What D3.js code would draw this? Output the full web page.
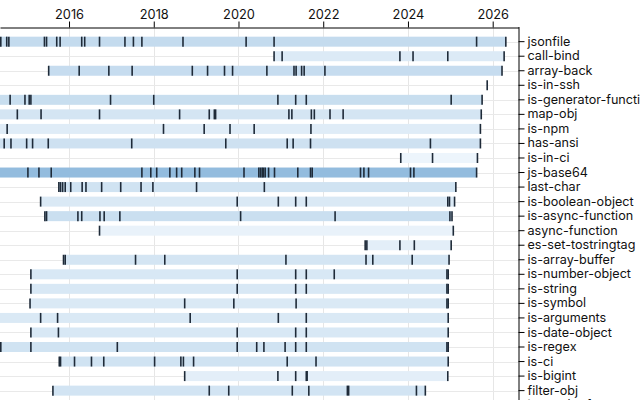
<!DOCTYPE html>
<html><head><meta charset="utf-8">
<script src="https://cdn.jsdelivr.net/npm/d3@7"></script>
<style>
body{margin:0;background:#fff;}
svg{display:block;font-family:Inter,"Helvetica Neue",Arial,sans-serif;}
</style>
</head><body>
<svg id="chart" width="640" height="400"></svg>
<script>
// Package names (top to bottom)
const packages = [
  "jsonfile","call-bind","array-back","is-in-ssh","is-generator-function","map-obj",
  "is-npm","has-ansi","is-in-ci","js-base64","last-char","is-boolean-object",
  "is-async-function","async-function","es-set-tostringtag","is-array-buffer",
  "is-number-object","is-string","is-symbol","is-arguments","is-date-object",
  "is-regex","is-ci","is-bigint","filter-obj","is-weakref"
];
// Relative popularity (drives bar shade)
const popularity = [
  0.25,0.13,0.24,0.05,0.23,0.17,
  0.12,0.20,0.05,0.49,0.19,0.14,
  0.22,0.07,0.10,0.17,
  0.15,0.15,0.14,0.14,0.15,
  0.19,0.19,0.10,0.18,0.15
];
// Release dates as decimal years, one list per package
const releases = [
  [2013.6,2014.39,2014.53,2014.58,2015.42,2015.47,2015.71,2015.79,2016.30,2016.37,2016.72,2017.32,2017.52,2017.72,2018.69,2020.18,2020.84,2025.62,2026.31],
  [2020.84,2021.03,2023.81,2024.12,2024.94,2026.27],
  [2015.52,2016.24,2016.94,2017.49,2018.91,2019.27,2019.67,2019.86,2020.67,2021.31,2021.36,2021.49,2021.55,2022.04,2026.22],
  [2025.87],
  [2014.0,2014.61,2014.96,2015.06,2015.10,2016.98,2018.00,2020.93,2021.35,2021.60,2025.02,2025.75],
  [2014.2,2014.78,2015.34,2016.72,2018.61,2019.31,2019.43,2019.46,2021.19,2021.26,2021.72,2021.79,2022.16,2022.47,2025.73],
  [2014.1,2014.54,2018.23,2019.19,2019.80,2020.37,2021.71,2025.71],
  [2014.3,2014.47,2014.63,2015.00,2015.14,2015.51,2017.48,2019.70,2021.15,2021.29,2021.70,2024.53,2025.71],
  [2023.83,2024.58,2025.64],
  [2013.9,2015.03,2015.29,2015.58,2017.72,2017.93,2018.07,2018.38,2018.54,2018.66,2018.97,2019.08,2020.13,2020.48,2020.52,2020.56,2020.59,2020.63,2020.71,2020.85,2021.40,2021.70,2021.74,2022.88,2022.96,2023.07,2024.06,2024.14,2025.62],
  [2015.76,2015.80,2015.85,2015.91,2016.04,2016.31,2016.40,2016.77,2017.22,2017.70,2017.98,2019.01,2020.61,2025.13],
  [2015.33,2019.97,2020.94,2021.35,2021.60,2024.94,2024.98,2025.10],
  [2015.43,2015.47,2016.21,2016.30,2016.73,2016.83,2017.20,2020.05,2022.28,2024.99,2025.04],
  [2016.72,2025.07],
  [2022.99,2023.03,2023.81,2024.15,2025.02],
  [2015.87,2015.91,2017.57,2018.26,2021.12,2023.01,2023.17,2024.10,2024.97],
  [2015.10,2019.97,2021.35,2021.60,2022.26,2024.92,2024.95],
  [2015.10,2019.97,2021.35,2021.60,2024.92,2024.95],
  [2015.08,2018.73,2019.89,2021.36,2024.92,2024.95],
  [2014.2,2015.33,2015.73,2018.86,2020.94,2021.60,2024.95],
  [2015.10,2015.75,2019.97,2021.35,2021.60,2024.95],
  [2014.0,2014.39,2015.10,2017.14,2019.97,2020.43,2020.60,2021.10,2021.35,2021.60,2024.92,2024.95],
  [2015.77,2015.80,2016.13,2016.53,2016.82,2018.02,2018.64,2018.70,2018.94,2021.15,2021.83,2024.95],
  [2018.73,2020.93,2021.35,2021.60,2021.62,2024.94],
  [2015.62,2019.31,2019.77,2021.27,2021.66,2022.57,2022.60,2024.20,2024.41],
  [2014.56,2018.22,2024.19]
];
const yearTicks = [2016,2018,2020,2022,2024,2026];

const svg = d3.select("#chart");
const axisX = 518.5, axisY = 27.5;

const x = d3.scaleLinear().domain([2014.371, 2026.609]).range([0, axisX]);
const y = d3.scaleBand().domain(packages).range([34.4, 34.4 + packages.length * 14.54]).padding(0);
const color = d3.scaleSequential(d3.interpolateRgb("#f7fbff", "#2b7bbb")).domain([0, 1]);
const barH = 10;
const cy = d => y(d) + y.bandwidth() / 2;

const rows = packages.map((name, i) => ({
  name, pop: popularity[i], dates: releases[i],
  start: d3.min(releases[i]), end: d3.max(releases[i])
}));

// vertical grid
svg.append("g").selectAll("line").data(yearTicks).join("line")
  .attr("x1", d => Math.round(x(d)) + 0.5).attr("x2", d => Math.round(x(d)) + 0.5)
  .attr("y1", axisY).attr("y2", 400)
  .attr("stroke", "#e6e6e6");

// horizontal grid
svg.append("g").selectAll("line").data(packages).join("line")
  .attr("x1", 0).attr("x2", axisX)
  .attr("y1", d => Math.round(cy(d)) + 0.5).attr("y2", d => Math.round(cy(d)) + 0.5)
  .attr("stroke", "#e9e9e9");

// bars
svg.append("g").selectAll("rect").data(rows).join("rect")
  .attr("x", d => x(d.start)).attr("width", d => x(d.end) - x(d.start))
  .attr("y", d => cy(d.name) - barH / 2).attr("height", barH)
  .attr("fill", d => color(d.pop));

// release ticks
const tg = svg.append("g");
rows.forEach(r => {
  tg.selectAll(null).data(r.dates).join("line")
    .attr("x1", d => x(d)).attr("x2", d => x(d))
    .attr("y1", cy(r.name) - barH / 2).attr("y2", cy(r.name) + barH / 2)
    .attr("stroke", "#1e2a38").attr("stroke-width", 1.6);
});

// top axis
const gx = svg.append("g").attr("transform", `translate(0,${axisY})`)
  .call(d3.axisTop(x).tickValues(yearTicks).tickFormat(d3.format("d")).tickSizeOuter(0));
gx.attr("font-family", null);
gx.selectAll("text").attr("font-size", 12.8).attr("fill", "#111");

// right axis
const gy = svg.append("g").attr("transform", `translate(${axisX},0)`)
  .call(d3.axisRight(y).tickSizeOuter(0));
gy.select(".domain").attr("d", `M0.5,${axisY - 0.5}V400`);
gy.attr("font-family", null);
gy.selectAll("text").attr("font-size", 12.6).attr("fill", "#111");
</script>
</body></html>
